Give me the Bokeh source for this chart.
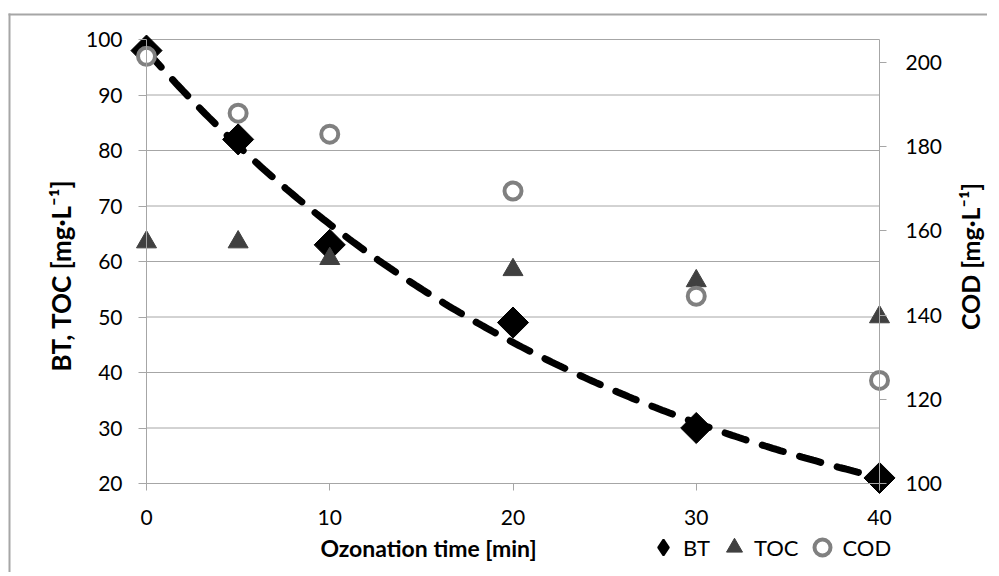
import numpy as np
from bokeh.plotting import figure
from bokeh.models import (Range1d, LinearAxis, FixedTicker, Legend, LegendItem,
                          Label, ColumnDataSource, BoxAnnotation)
from bokeh.embed import file_html
from bokeh.resources import INLINE

# ---- data ----
time_min = [0, 5, 10, 20, 30, 40]
bt = [98, 82, 63, 49, 30, 21]
toc = [63.5, 63.5, 60.5, 58.5, 56.5, 50]
cod = [201.5, 188, 183, 169.5, 144.5, 124.5]
x_ticks = [0, 10, 20, 30, 40]
left_ticks = [20, 30, 40, 50, 60, 70, 80, 90, 100]
right_ticks = [100, 120, 140, 160, 180, 200]
X_LIM = (0, 40)
L_LIM = (20, 100)
R_LIM = (100, 205.5)

# ---- layout (canvas pixels) ----
W, H = 987, 572
FX0, FX1 = 146, 879      # pixel of x=0 and x=40
FY0, FY1 = 483, 39       # pixel of bottom and top of value axes

def px_to_x(px):
    return X_LIM[0] + (px - FX0) * (X_LIM[1] - X_LIM[0]) / (FX1 - FX0)

def py_to_y(py):
    return L_LIM[0] + (FY0 - py) * (L_LIM[1] - L_LIM[0]) / (FY0 - FY1)

def py_to_r(py):
    return R_LIM[0] + (FY0 - py) * (R_LIM[1] - R_LIM[0]) / (FY0 - FY1)

FONT = "Lato"
GRID = "#a6a6a6"

p = figure(width=W, height=H, output_backend="svg", toolbar_location=None,
           title=None,
           x_range=Range1d(px_to_x(0), px_to_x(W)),
           y_range=Range1d(py_to_y(H), py_to_y(0)),
           min_border=0, min_border_left=0, min_border_right=0,
           min_border_top=0, min_border_bottom=0)
p.outline_line_color = None
p.background_fill_color = "white"
p.border_fill_color = "white"
p.extra_y_ranges = {"cod": Range1d(py_to_r(H), py_to_r(0))}
p.xgrid.visible = False
p.ygrid.visible = False

def style_axis(ax, tick_out, standoff):
    ax.axis_line_color = GRID
    ax.major_tick_line_color = GRID
    ax.minor_tick_line_color = None
    ax.major_tick_in = 0
    ax.major_tick_out = tick_out
    ax.major_label_standoff = standoff
    ax.major_label_text_font = FONT
    ax.major_label_text_font_size = "21px"
    ax.major_label_text_color = "black"

xa = p.xaxis[0]
xa.ticker = FixedTicker(ticks=x_ticks)
xa.fixed_location = L_LIM[0]
xa.bounds = X_LIM
style_axis(xa, 7, 19)

ya = p.yaxis[0]
ya.ticker = FixedTicker(ticks=left_ticks)
ya.fixed_location = X_LIM[0]
ya.bounds = L_LIM
style_axis(ya, 8, 16)

ax_r = LinearAxis(y_range_name="cod", ticker=FixedTicker(ticks=right_ticks))
ax_r.fixed_location = X_LIM[1]
ax_r.bounds = R_LIM
style_axis(ax_r, 7, 19)
p.add_layout(ax_r, "right")

# horizontal gridlines for the left axis
p.segment(x0=[X_LIM[0]] * len(left_ticks), x1=[X_LIM[1]] * len(left_ticks),
          y0=left_ticks, y1=left_ticks, line_color=GRID, line_width=1)

# chart-area border: only top and left edges are visible (thin filled strips)
p.add_layout(BoxAnnotation(left=px_to_x(8), right=px_to_x(W),
                           top=py_to_y(13), bottom=py_to_y(15),
                           fill_color=GRID, fill_alpha=1, line_color=None,
                           line_alpha=0, level="underlay"))
p.add_layout(BoxAnnotation(left=px_to_x(8), right=px_to_x(10),
                           top=py_to_y(13), bottom=py_to_y(H),
                           fill_color=GRID, fill_alpha=1, line_color=None,
                           line_alpha=0, level="underlay"))

src = ColumnDataSource(dict(t=time_min, bt=bt, toc=toc, cod=cod))

r_bt = p.scatter("t", "bt", source=src, marker="square", angle=np.pi / 4, size=22,
                 fill_color="black", line_color="black")
r_toc = p.scatter("t", "toc", source=src, marker="triangle", size=20,
                  fill_color="#404040", line_color="#404040")

# exponential trendline fitted to BT
b, ln_a = np.polyfit(time_min, np.log(bt), 1)
xt = np.linspace(X_LIM[0], X_LIM[1], 200)
p.line(xt, np.exp(ln_a) * np.exp(b * xt), line_color="black", line_width=7,
       line_dash="22 17", line_cap="round")

r_cod = p.scatter("t", "cod", source=src, y_range_name="cod", marker="circle",
                  size=17, fill_color="white", line_color="#808080", line_width=4)

# legend-only diamond proxy (rotated squares are drawn unrotated in legends)
r_bt_leg = p.scatter(x=[np.nan], y=[np.nan], marker="diamond", size=22,
                     fill_color="black", line_color="black", line_width=2)

legend = Legend(items=[LegendItem(label="BT", renderers=[r_bt_leg]),
                       LegendItem(label="TOC", renderers=[r_toc]),
                       LegendItem(label="COD", renderers=[r_cod])],
                orientation="horizontal", location=(643, 5),
                glyph_width=40, glyph_height=40, label_standoff=-5, spacing=4,
                padding=0, margin=0, border_line_color=None,
                background_fill_alpha=0,
                label_text_font=FONT, label_text_font_size="22px",
                label_text_color="black")
p.add_layout(legend, "center")

p.add_layout(Label(x=px_to_x(428), y=py_to_y(547),
                   text="Ozonation time [min]", text_font=FONT,
                   text_font_style="bold", text_font_size="23px",
                   text_align="center", text_baseline="middle",
                   text_color="black"))
p.add_layout(Label(x=px_to_x(60), y=py_to_y(275), angle=np.pi / 2,
                   text="BT, TOC [mg·L⁻¹]", text_font=FONT,
                   text_font_style="bold", text_font_size="26px",
                   text_align="center", text_baseline="middle",
                   text_color="black"))
p.add_layout(Label(x=px_to_x(969), y=py_to_y(256), angle=np.pi / 2,
                   text="COD [mg·L⁻¹]", text_font=FONT,
                   text_font_style="bold", text_font_size="25px",
                   text_align="center", text_baseline="middle",
                   text_color="black"))

open("out.html", "w").write(file_html(p, INLINE))
